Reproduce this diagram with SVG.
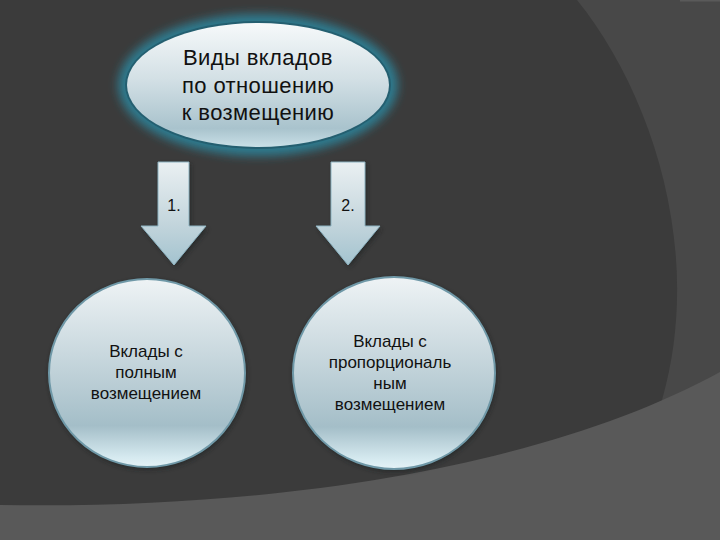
<svg xmlns="http://www.w3.org/2000/svg" width="720" height="540" viewBox="0 0 720 540">
  <defs>
    <linearGradient id="gTop" x1="0" y1="0" x2="0" y2="1">
      <stop offset="0" stop-color="#f6f9fa"/>
      <stop offset="0.45" stop-color="#d3e0e5"/>
      <stop offset="0.85" stop-color="#a9c3cd"/>
      <stop offset="1" stop-color="#c9e0e7"/>
    </linearGradient>
    <linearGradient id="gCirc" x1="0" y1="0" x2="0" y2="1">
      <stop offset="0" stop-color="#eef3f5"/>
      <stop offset="0.4" stop-color="#c9d8de"/>
      <stop offset="0.78" stop-color="#a4bec8"/>
      <stop offset="0.95" stop-color="#d6eaf0"/>
      <stop offset="1" stop-color="#e4f2f6"/>
    </linearGradient>
    <linearGradient id="gArrow" x1="0" y1="0" x2="0" y2="1">
      <stop offset="0" stop-color="#eaf0f2"/>
      <stop offset="0.6" stop-color="#c3d5dc"/>
      <stop offset="1" stop-color="#a3c3cf"/>
    </linearGradient>
    <filter id="glow" x="-20%" y="-30%" width="140%" height="160%">
      <feGaussianBlur stdDeviation="5"/>
    </filter>
    <filter id="soft" x="-20%" y="-20%" width="140%" height="140%">
      <feGaussianBlur stdDeviation="2"/>
    </filter>
    <style>
      .t { font-family: "Liberation Sans", Arial, sans-serif; fill: #111; text-anchor: middle; }
      .big { font-size: 22px; letter-spacing: 0.4px; }
      .mid { font-size: 17px; }
      .num { font-size: 16px; }
      .circ { fill: url(#gCirc); stroke: #6f98a7; stroke-width: 2; }
      .arr { fill: url(#gArrow); stroke: #8db3c1; stroke-width: 1; }
      .shadow { fill: #1e2224; opacity: 0.6; }
    </style>
  </defs>

  <!-- background -->
  <rect x="0" y="0" width="720" height="540" fill="#3b3b3b"/>
  <path d="M577,0 C650,90 705,250 662,400 L720,400 L720,0 Z" fill="#484848"/>
  <path d="M0,505 C300,510 560,460 720,372 L720,540 L0,540 Z" fill="#595959"/>
  <rect x="680" y="0" width="40" height="1.5" fill="#5a5a5a"/>

  <!-- top node -->
  <g id="node-top">
    <ellipse cx="258" cy="85" rx="140" ry="71" fill="#2f7a8e" filter="url(#glow)"/>
    <ellipse cx="258" cy="85" rx="133" ry="64" fill="#245f70"/>
    <ellipse cx="258" cy="85" rx="131" ry="62" fill="url(#gTop)"/>
    <text class="t big" x="258" y="65">Виды вкладов</text>
    <text class="t big" x="258" y="93">по отношению</text>
    <text class="t big" x="258" y="120">к возмещению</text>
  </g>

  <!-- connectors -->
  <g id="connectors">
    <g id="arrow-1">
      <path class="shadow" filter="url(#soft)" d="M160,164 L191,164 L191,229 L208,229 L176,267 L143,229 L160,229 Z"/>
      <path class="arr" d="M158,162 L189,162 L189,226 L206,226 L174,265 L141,226 L158,226 Z"/>
      <text class="t num" x="174" y="211">1.</text>
    </g>
    <g id="arrow-2">
      <path class="shadow" filter="url(#soft)" d="M333,164 L367,164 L367,229 L382,229 L350,267 L318,229 L333,229 Z"/>
      <path class="arr" d="M331,162 L365,162 L365,226 L380,226 L348,265 L316,226 L331,226 Z"/>
      <text class="t num" x="348" y="211">2.</text>
    </g>
  </g>

  <!-- left node -->
  <g id="node-left">
    <ellipse cx="148" cy="375" rx="99" ry="95" class="shadow" filter="url(#soft)"/>
    <ellipse cx="147" cy="373" rx="98" ry="94" class="circ"/>
    <text class="t mid" x="146" y="357">Вклады с</text>
    <text class="t mid" x="146" y="378">полным</text>
    <text class="t mid" x="146" y="399">возмещением</text>
  </g>

  <!-- right node -->
  <g id="node-right">
    <ellipse cx="395" cy="375" rx="102" ry="97" class="shadow" filter="url(#soft)"/>
    <ellipse cx="394" cy="373" rx="101" ry="96" class="circ"/>
    <text class="t mid" x="390" y="347">Вклады с</text>
    <text class="t mid" x="390" y="368">пропорциональ</text>
    <text class="t mid" x="390" y="389">ным</text>
    <text class="t mid" x="390" y="410">возмещением</text>
  </g>
</svg>
